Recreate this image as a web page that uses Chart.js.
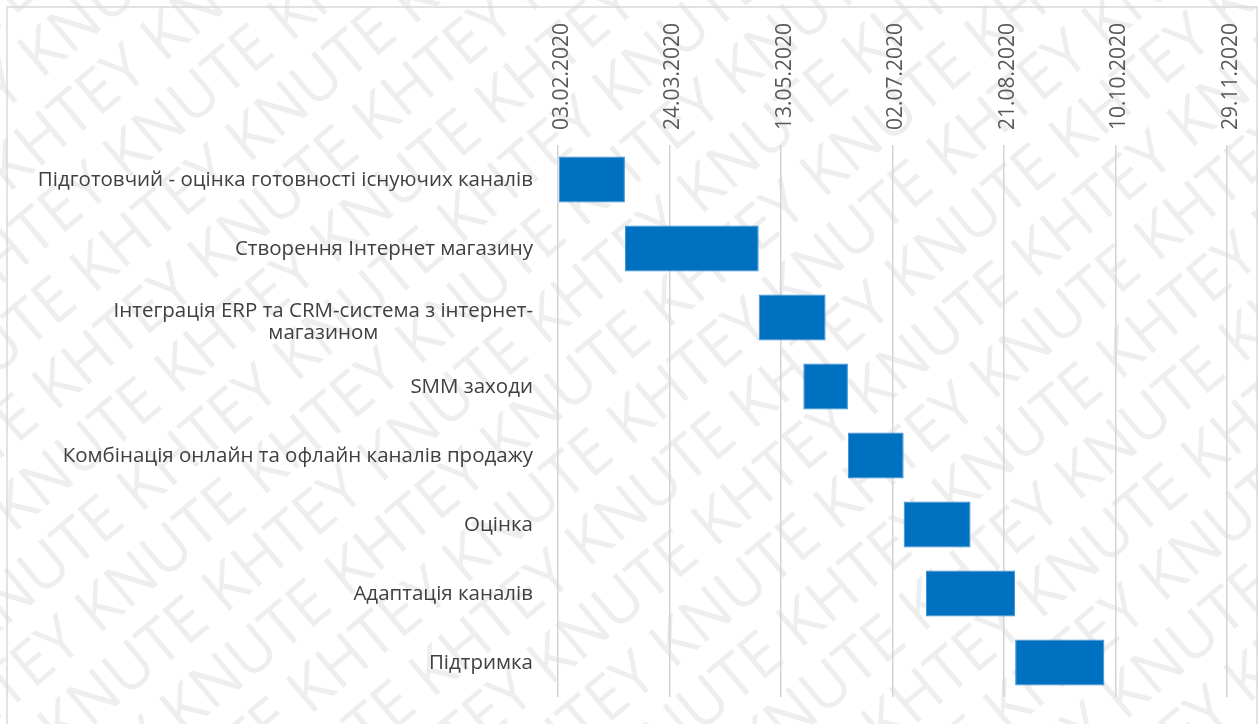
<!DOCTYPE html>
<html>
<head>
<meta charset="utf-8">
<script src="https://cdn.jsdelivr.net/npm/chart.js@4/dist/chart.umd.min.js"></script>
<style>
  html, body { margin: 0; padding: 0; background: #fff; }
  #wrap { width: 1258px; height: 724px; position: relative; }
</style>
</head>
<body>
<div id="wrap"><canvas id="gantt"></canvas></div>
<script>
// stages of the plan (top to bottom)
const categories = [
    'Підготовчий - оцінка готовності існуючих каналів',
    'Створення Інтернет магазину',
    ['Інтеграція ERP та CRM-система з інтернет-', 'магазином'],
    'SMM заходи',
    'Комбінація онлайн та офлайн каналів продажу',
    'Оцінка',
    'Адаптація каналів',
    'Підтримка'
]
const startDates = ['03.02.2020', '04.03.2020', '03.05.2020', '23.05.2020', '12.06.2020', '07.07.2020', '17.07.2020', '26.08.2020']
const durations = [30, 60, 30, 20, 25, 30, 40, 40]   // days

const axisStart = '03.02.2020'
const axisDays = 313
const tickStep = 50
const tickLabels = ['03.02.2020', '24.03.2020', '13.05.2020', '02.07.2020', '21.08.2020', '10.10.2020', '29.11.2020']

const FONT = "'Open Sans', 'Noto Sans', sans-serif"

function toDay(s) {
    const [d, m, y] = s.split('.').map(Number)
    return Date.UTC(y, m - 1, d) / 86400000
}

const day0 = toDay(axisStart)
const bars = startDates.map((s, i) => {
    const from = toDay(s) - day0
    return [from, from + durations[i]]
})

// faint diagonal watermark + outer frame, drawn under everything
const backdrop = {
    id: 'backdrop',
    beforeDraw(chart) {
        const ctx = chart.ctx
        ctx.save()
        ctx.fillStyle = '#fff'
        ctx.fillRect(0, 0, chart.width, chart.height)
        ctx.translate(chart.width / 2, chart.height / 2)
        ctx.rotate(-40 * Math.PI / 180)
        ctx.font = '62px ' + FONT
        ctx.fillStyle = '#eeeeee'
        const words = ['KNUTE ', 'KHTEY ']
        for (let r = -12; r <= 12; r++) {
            let line = ''
            for (let k = 0; k < 10; k++) line += words[(k + r + 32) % 2]
            ctx.fillText(line, -1000 + ((r + 12) % 2) * 110, r * 66)
        }
        ctx.restore()

        ctx.save()
        ctx.strokeStyle = '#d9d9d9'
        ctx.lineWidth = 1.5
        ctx.strokeRect(7, 7, 1250, 760)
        ctx.restore()
    }
}

// category labels: right-aligned block, wrapped lines centred within it
const rowLabels = {
    id: 'rowLabels',
    afterDraw(chart) {
        const ctx = chart.ctx
        const yScale = chart.scales.y
        const right = 533
        const lh = 22
        ctx.save()
        ctx.font = '20.5px ' + FONT
        ctx.fillStyle = '#404040'
        ctx.textAlign = 'center'
        ctx.textBaseline = 'middle'
        categories.forEach((lab, i) => {
            const lines = Array.isArray(lab) ? lab : [lab]
            const w = Math.max(...lines.map(t => ctx.measureText(t).width))
            const cx = right - w / 2
            const cy = yScale.getPixelForValue(i) + 1 - (lines.length - 1) * lh / 2 + (lines.length > 1 ? 4 : 0)
            lines.forEach((t, j) => ctx.fillText(t, cx, cy + j * lh))
        })
        ctx.restore()
    }
}

new Chart(document.getElementById('gantt').getContext('2d'), {
    type: 'bar',
    data: {
        labels: categories,
        datasets: [{
            data: bars,
            backgroundColor: '#0070C0',
            borderColor: '#3d8fd3',
            borderWidth: 1,
            borderSkipped: false,
            categoryPercentage: 1,
            barPercentage: 0.667
        }]
    },
    options: {
        indexAxis: 'y',
        responsive: true,
        maintainAspectRatio: false,
        animation: false,
        layout: { padding: { top: 0, right: 2, bottom: 27, left: 0 } },
        plugins: {
            legend: { display: false },
            tooltip: { enabled: false }
        },
        scales: {
            x: {
                type: 'linear',
                position: 'top',
                min: 0,
                max: axisDays,
                border: { display: false },
                grid: { color: '#d4d4d4', lineWidth: 1.5, drawTicks: false },
                ticks: {
                    stepSize: tickStep,
                    includeBounds: false,
                    minRotation: 90,
                    maxRotation: 90,
                    padding: 15,
                    labelOffset: 29,
                    color: '#595959',
                    font: { family: FONT, size: 21 },
                    callback: v => tickLabels[Math.round(v / tickStep)]
                },
                afterFit: s => { s.height = 145 }
            },
            y: {
                type: 'category',
                grid: { display: false },
                border: { display: false },
                ticks: { display: false },
                afterFit: s => { s.width = 558 }
            }
        }
    },
    plugins: [backdrop, rowLabels]
});
</script>
</body>
</html>
